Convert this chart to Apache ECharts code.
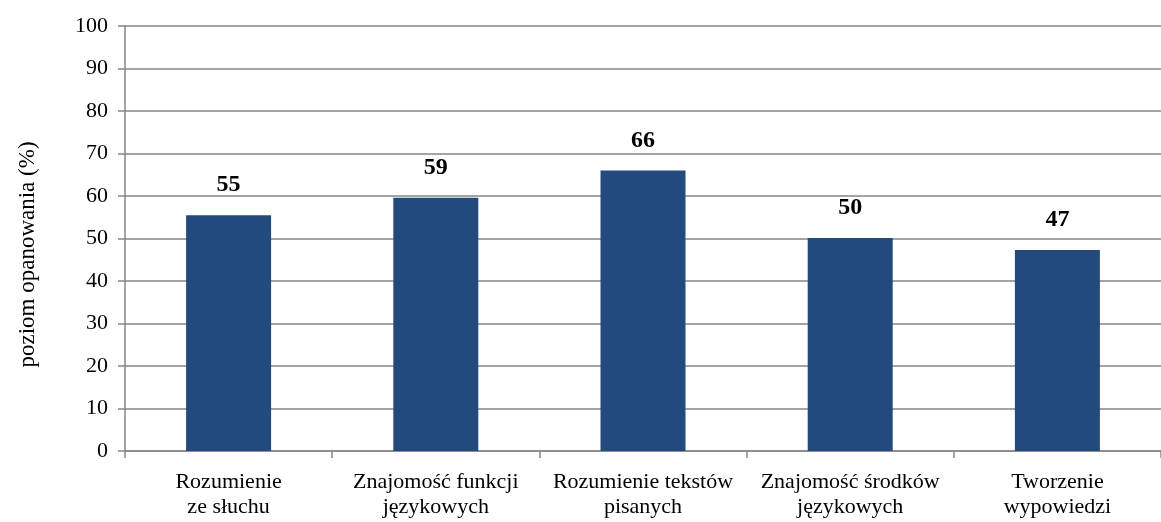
<!DOCTYPE html>
<html>
<head>
<meta charset="utf-8">
<script src="https://cdn.jsdelivr.net/npm/echarts@6/dist/echarts.min.js"></script>
<style>
  html, body { margin: 0; padding: 0; background: #fff; }
  #chart { width: 1161px; height: 522px; }
</style>
</head>
<body>
<div id="chart"></div>
<script>
const categories = [
  'Rozumienie\nze słuchu',
  'Znajomość funkcji\njęzykowych',
  'Rozumienie tekstów\npisanych',
  'Znajomość środków\njęzykowych',
  'Tworzenie\nwypowiedzi'
];
const values = [55.5, 59.6, 66, 50.1, 47.3];
const yTicks = { min: 0, max: 100, interval: 10 };

const font = '"Liberation Serif", "Times New Roman", serif';
const gray = '#868686';

const myChart = echarts.init(document.getElementById('chart'));

myChart.setOption({
  animation: false,
  grid: { left: 125, top: 26, width: 1048, bottom: 71, containLabel: false },
  xAxis: {
    type: 'category',
    data: categories,
    axisLine: { lineStyle: { color: gray, width: 1.5 } },
    axisTick: { show: true, length: 7, lineStyle: { color: gray, width: 1.5 } },
    axisLabel: {
      margin: 19,
      color: '#000',
      fontFamily: font,
      fontSize: 22,
      lineHeight: 25,
      interval: 0
    }
  },
  yAxis: {
    type: 'value',
    min: yTicks.min,
    max: yTicks.max,
    interval: yTicks.interval,
    name: 'poziom opanowania (%)',
    nameLocation: 'middle',
    nameGap: 86,
    nameTextStyle: { color: '#000', fontFamily: font, fontSize: 23, padding: [0, 32, 0, 0] },
    axisLine: { show: true, lineStyle: { color: gray, width: 1.5 } },
    axisTick: { show: true, length: 7, lineStyle: { color: gray, width: 1.5 } },
    axisLabel: { margin: 17, color: '#000', fontFamily: font, fontSize: 22 },
    splitLine: { lineStyle: { color: gray, width: 1.5 } }
  },
  series: [{
    type: 'bar',
    data: values,
    barWidth: 85,
    itemStyle: { color: '#224A7C' },
    label: {
      show: true,
      position: 'top',
      distance: 18,
      color: '#000',
      fontFamily: font,
      fontSize: 24,
      fontWeight: 'bold',
      formatter: p => Math.floor(p.value)
    }
  }]
});

window.onresize = () => {
  myChart.resize();
};
</script>
</body>
</html>
